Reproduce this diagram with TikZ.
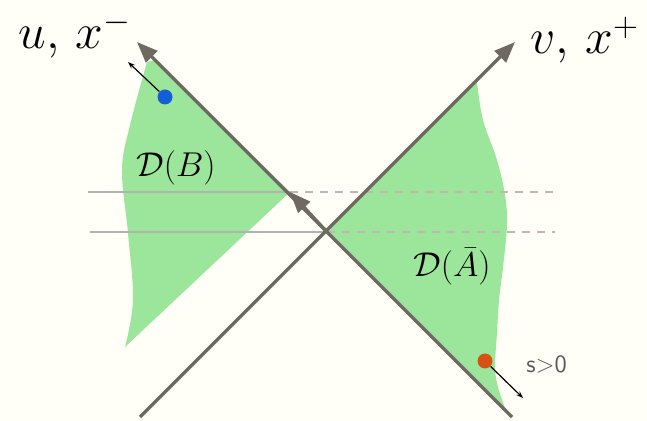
\documentclass[tikz,border=0pt]{standalone}
\usepackage{amsmath}
\usepackage{amssymb}
\usepackage{tikz}
\usetikzlibrary{
  arrows.meta,
  positioning,
  calc
}

\definecolor{creme}{RGB}{255,255,248}
\definecolor{verdeclaro}{RGB}{155,230,155}
\definecolor{cinzaeixo}{RGB}{110,106,98}
\definecolor{cinzalinha}{RGB}{178,178,178}
\definecolor{rosatrac}{RGB}{200,178,178}
\definecolor{azulponto}{RGB}{20,95,215}
\definecolor{laranjaponto}{RGB}{215,80,20}

\begin{document}
\begin{tikzpicture}[
      x=0.5bp, y=-0.5bp,
      eixo/.style={line width=1.6bp, draw=cinzaeixo,
                   -{Triangle[length=10.5bp, width=8bp]}},
      regiao/.style={fill=verdeclaro},
      horiz/.style={line width=1bp, draw=cinzalinha},
      tracej/.style={line width=1bp, draw=rosatrac, dash pattern=on 4bp off 3.5bp},
      ponto/.style={circle, inner sep=0pt, minimum size=7.5bp},
      setafina/.style={-{Stealth[length=3.5bp, width=2.5bp]}, line width=0.6bp, black},
      eixolabel/.style={font=\fontsize{27}{32}\selectfont, inner sep=0pt},
      regiaolabel/.style={font=\fontsize{19}{23}\selectfont, inner sep=0pt},
      sublabel/.style={font=\fontsize{12.5}{15}\selectfont\sffamily, text=black!65, inner sep=0pt}
  ]
      % Fundo
      \fill[creme] (0,0) rectangle (647,421);
      \useasboundingbox (0,0) rectangle (647,421);

      % Pontos de referencia
      \coordinate (O)    at (327,232);
      \coordinate (P)    at (290,192);
      \coordinate (uini) at (512,417);
      \coordinate (ufim) at (137,42);
      \coordinate (vini) at (140,417);
      \coordinate (vfim) at (515,42);

      % Regioes D(B) e D(Abar)
      \fill[regiao] (155,60) -- (P) -- (125,347)
            -- plot[smooth, tension=0.6] coordinates {(125,347) (133,300) (128,233)
               (122,170) (130,125) (147,62)} -- cycle;
      \fill[regiao] (O) -- (477,82)
            -- plot[smooth, tension=0.6] coordinates {(477,82) (483,120) (497,160)
               (505,195) (507,225) (503,267) (499,300) (497,333) (495,367)
               (498,387) (505,408)} -- cycle;

      % Linhas horizontais
      \coordinate (h1ini) at (88,192);
      \coordinate (h1fim) at (555,192);
      \coordinate (h2ini) at (90,232);
      \coordinate (h2fim) at (555,232);
      \draw[horiz]  (h1ini) -- (P);
      \draw[tracej] (P) -- (h1fim);
      \draw[horiz]  (h2ini) -- (O);
      \draw[tracej] (O) -- (h2fim);

      % Eixos
      \draw[eixo] (uini) -- (ufim);
      \draw[eixo] (vini) -- (vfim);
      \draw[eixo] (O) -- (P);

      % Pontos e setas
      \node[ponto, fill=azulponto]   (pB) at (165,97)  {};
      \node[ponto, fill=laranjaponto] (pA) at (485,361) {};
      \coordinate (qB) at (128,62);
      \coordinate (qA) at (523,398);
      \draw[setafina] (pB) -- (qB);
      \draw[setafina] (pA) -- (qA);

      % Rotulos
      \node[eixolabel, anchor=base west] (lu) at (18,49) {$u,\,x^-$};
      \node[eixolabel, anchor=base west] (lv) at (530,54) {$v,\,x^+$};
      \node[regiaolabel] (lB) at (176,168) {$\mathcal{D}(B)$};
      \node[regiaolabel] (lA) at (452,267) {$\mathcal{D}(\bar{A})$};
      \node[sublabel, anchor=west] (ls) at (526,364) {s>0};
  \end{tikzpicture}
\end{document}
